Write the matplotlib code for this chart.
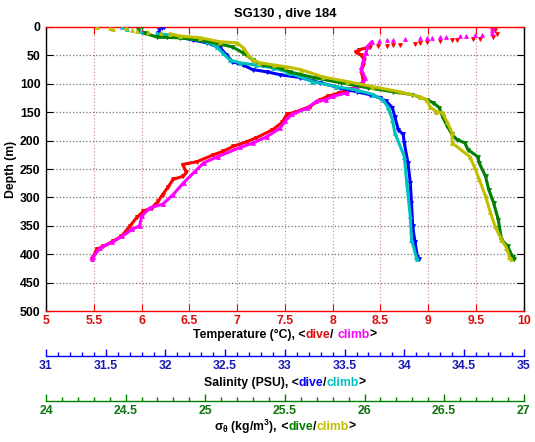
import matplotlib
matplotlib.use('Agg')
import matplotlib.pyplot as plt
import numpy as np

plt.rcParams['font.family'] = ['Liberation Sans', 'DejaVu Sans']
plt.rcParams['font.weight'] = 'bold'
plt.rcParams['mathtext.default'] = 'regular'

# temperature, dive (red) and climb (magenta)
temp_dive_depth = [0, 5, 12, 18, 21, 21, 23, 23, 25, 26, 28, 30, 31, 32, 33, 33, 35, 40, 44, 50, 58,
                   67, 75, 85, 96, 100, 105, 110, 116, 122, 128, 140, 149, 154, 168, 181, 195, 202,
                   210, 219, 225, 237, 242, 256, 263, 268, 281, 295, 307, 318, 324, 335, 350, 368,
                   377, 386, 391, 405, 408]
temp_dive = [9.67, 9.70, 9.72, 9.68, 9.54, 9.47, 9.30, 9.25, 9.12, 8.99, 8.91, 8.86, 8.70, 8.63,
             8.57, 8.47, 8.39, 8.28, 8.24, 8.30, 8.33, 8.32, 8.30, 8.31, 8.32, 8.30, 8.25, 8.18,
             8.07, 7.95, 7.87, 7.76, 7.62, 7.52, 7.47, 7.37, 7.20, 7.10, 6.96, 6.85, 6.75, 6.58,
             6.43, 6.47, 6.43, 6.33, 6.28, 6.22, 6.17, 6.11, 6.02, 5.95, 5.88, 5.79, 5.70, 5.60,
             5.53, 5.49, 5.48]
temp_climb_depth = [0, 5, 11, 14, 14, 16, 16, 18, 18, 19, 19, 19, 21, 23, 23, 25, 26, 35, 45, 60,
                    75, 90, 100, 105, 116, 122, 128, 131, 143, 154, 166, 178, 193, 204, 212, 228,
                    239, 254, 274, 295, 312, 318, 333, 350, 356, 368, 379, 388, 405, 408]
temp_climb = [9.67, 9.67, 9.67, 9.56, 9.49, 9.40, 9.33, 9.19, 9.12, 9.04, 8.99, 8.91, 8.76, 8.63,
              8.57, 8.49, 8.41, 8.36, 8.35, 8.32, 8.30, 8.34, 8.31, 8.25, 8.15, 8.00, 7.93, 7.83,
              7.73, 7.57, 7.50, 7.45, 7.31, 7.17, 7.03, 6.80, 6.65, 6.56, 6.44, 6.33, 6.22, 6.09,
              6.00, 5.98, 5.90, 5.80, 5.69, 5.57, 5.49, 5.48]

# salinity, dive (blue) and climb (cyan)
sal_dive_depth = [0, 2, 6, 11, 17, 18, 23, 28, 37, 49, 61, 67, 75, 79, 84, 89, 98, 107, 114, 119,
                  125, 131, 142, 158, 181, 189, 204, 239, 274, 309, 351, 379, 405, 408]
sal_dive = [31.99, 31.97, 31.95, 31.94, 32.01, 32.12, 32.23, 32.35, 32.46, 32.51, 32.56, 32.65,
            32.73, 32.85, 32.96, 33.13, 33.29, 33.46, 33.60, 33.71, 33.80, 33.85, 33.90, 33.92,
            33.95, 33.99, 34.00, 34.03, 34.05, 34.06, 34.07, 34.09, 34.11, 34.12]
sal_climb_depth = [0, 4, 7, 9, 12, 14, 18, 26, 35, 46, 58, 63, 67, 72, 79, 81, 96, 105, 111, 119,
                   128, 140, 163, 186, 228, 274, 333, 374, 405, 408]
sal_climb = [31.64, 31.68, 31.79, 31.81, 31.93, 32.04, 32.12, 32.35, 32.43, 32.48, 32.54, 32.62,
             32.76, 32.90, 33.02, 33.04, 33.23, 33.43, 33.60, 33.74, 33.82, 33.86, 33.90, 33.92,
             34.00, 34.02, 34.05, 34.06, 34.10, 34.11]

# sigma-theta, dive (green) and climb (yellow)
sig_dive_depth = [0, 5, 11, 18, 19, 23, 30, 35, 46, 58, 67, 72, 79, 89, 98, 107, 114, 119, 128, 133,
                  142, 158, 175, 189, 198, 204, 216, 228, 239, 263, 286, 309, 339, 374, 386, 405, 408]
sig_dive = [24.60, 24.58, 24.62, 24.70, 24.84, 24.97, 25.09, 25.17, 25.24, 25.30, 25.36, 25.47,
            25.53, 25.68, 25.85, 26.02, 26.18, 26.30, 26.39, 26.43, 26.47, 26.49, 26.52, 26.55,
            26.58, 26.63, 26.65, 26.71, 26.72, 26.76, 26.78, 26.81, 26.84, 26.86, 26.90, 26.93, 26.94]
sig_climb_depth = [0, 2, 4, 2, 5, 7, 9, 11, 12, 16, 19, 26, 28, 37, 49, 58, 63, 67, 70, 75, 88, 96,
                   105, 114, 123, 128, 140, 149, 151, 168, 186, 204, 228, 246, 268, 298, 326, 351,
                   374, 388, 405, 408]
sig_climb = [24.32, 24.40, 24.42, 24.50, 24.54, 24.57, 24.64, 24.72, 24.78, 24.84, 24.97, 25.09,
             25.20, 25.24, 25.27, 25.30, 25.34, 25.43, 25.51, 25.60, 25.74, 25.89, 26.05, 26.22,
             26.35, 26.39, 26.41, 26.45, 26.49, 26.52, 26.55, 26.55, 26.66, 26.69, 26.72, 26.76,
             26.79, 26.82, 26.86, 26.89, 26.91, 26.92]

RED = (1, 0, 0)
MAG = (1, 0, 1)
BLUE = (0, 0, 1)
CYAN = (0, 0.75, 0.75)
GREEN = (0, 0.5, 0)
YELLOW = (0.75, 0.75, 0)
LAB_RED = (0.85, 0.05, 0.05)
LAB_BLUE = (0.1, 0.1, 0.7)
LAB_GREEN = (0.05, 0.45, 0.05)

fs = 8.8

fig = plt.figure(figsize=(5.35, 4.42), dpi=100)
ax = fig.add_axes([0.086, 0.296, 0.893, 0.643])


def profile(a, x, depth, color, marker, cutoff):
    # near the surface the glider samples are sparse: markers only,
    # deeper down they merge into a thick line
    x = np.asarray(x)
    depth = np.asarray(depth)
    a.plot(x, depth, marker, color=color, ls='none', ms=2.8, mew=0.6)
    deep = depth >= cutoff
    a.plot(x[deep], depth[deep], '-', color=color, lw=2.2)


# temperature on the main axes
profile(ax, temp_dive, temp_dive_depth, RED, 'v', 35)
profile(ax, temp_climb, temp_climb_depth, MAG, '^', 26)
ax.set_xlim(5, 10)
ax.set_ylim(500, 0)
ax.set_xticks(np.arange(5, 10.01, 0.5))
ax.set_xticklabels(['5', '5.5', '6', '6.5', '7', '7.5', '8', '8.5', '9', '9.5', '10'])
ax.set_yticks(np.arange(0, 501, 50))
ax.grid(axis='x', color=(0.8, 0.6, 0.6), linestyle=':', lw=0.9)
ax.grid(axis='y', color=(0.45, 0.45, 0.45), linestyle=':', lw=0.9)
ax.set_ylabel('Depth (m)', fontsize=fs, fontweight='bold', labelpad=2)
ax.set_title('SG130 , dive 184', fontsize=9.4, fontweight='bold', pad=7)

# salinity and density get their own x axes below
ax_s = ax.twiny()
profile(ax_s, sal_dive, sal_dive_depth, BLUE, 'v', 11)
profile(ax_s, sal_climb, sal_climb_depth, CYAN, '^', 12)
ax_s.set_xlim(31, 35)

ax_d = ax.twiny()
profile(ax_d, sig_dive, sig_dive_depth, GREEN, 'v', 11)
profile(ax_d, sig_climb, sig_climb_depth, YELLOW, '^', 12)
ax_d.set_xlim(24, 27)

for a, off, col, lab, labels in [
        (ax_s, -0.158, BLUE, LAB_BLUE,
         ['31', '31.5', '32', '32.5', '33', '33.5', '34', '34.5', '35']),
        (ax_d, -0.317, GREEN, LAB_GREEN,
         ['24', '24.5', '25', '25.5', '26', '26.5', '27'])]:
    lo, hi = a.get_xlim()
    a.xaxis.set_ticks_position('bottom')
    a.xaxis.set_label_position('bottom')
    for s in ['top', 'left', 'right']:
        a.spines[s].set_visible(False)
    a.spines['bottom'].set_position(('axes', off))
    a.spines['bottom'].set_color(col)
    a.spines['bottom'].set_linewidth(1)
    a.set_xticks(np.arange(lo, hi + 0.01, 0.5))
    a.set_xticklabels(labels)
    a.set_xticks(np.arange(lo, hi + 0.01, 0.1), minor=True)
    a.tick_params(axis='x', which='major', direction='in', length=5, width=1, color=col,
                  labelcolor=lab, labelsize=fs, pad=2.5)
    a.tick_params(axis='x', which='minor', direction='in', length=3, width=1, color=col)

# main axes styling
ax.tick_params(axis='x', which='both', direction='in', top=True, bottom=True, length=5,
               color=RED, labelcolor=LAB_RED, labelsize=fs, pad=2.5)
ax.tick_params(axis='y', direction='in', left=True, right=True, length=5, labelsize=fs,
               pad=4)
ax.spines['bottom'].set_color(RED)
ax.spines['top'].set_color(RED)
for s in ax.spines.values():
    s.set_linewidth(1)
for t in ax.get_xticklabels() + ax.get_yticklabels():
    t.set_fontweight('bold')
for a in [ax_s, ax_d]:
    for t in a.get_xticklabels():
        t.set_fontweight('bold')


def colored_label(y, parts):
    # draw text pieces next to each other, centred on the axes
    renderer = fig.canvas.get_renderer()
    texts = []
    for s, c in parts:
        t = fig.text(0, y, s, color=c, fontsize=fs, fontweight='bold', va='center')
        texts.append(t)
    widths = [t.get_window_extent(renderer).width for t in texts]
    total = sum(widths)
    fw = fig.get_figwidth() * fig.dpi
    x = (0.086 + 0.893 / 2) * fw - total / 2
    for t, w in zip(texts, widths):
        t.set_x(x / fw)
        x += w


colored_label(0.242, [('Temperature (°C), <', 'black'), ('dive', LAB_RED), ('/ ', 'black'),
                      ('climb', MAG), ('>', 'black')])
colored_label(0.133, [('Salinity (PSU), <', 'black'), ('dive', BLUE), ('/', 'black'),
                      ('climb', CYAN), ('>', 'black')])
colored_label(0.034, [(r'$\sigma_\theta$ (kg/m$^3$),', 'black'), (' <', 'black'),
                      ('dive', GREEN), ('/', 'black'), ('climb', YELLOW), ('>', 'black')])

fig.savefig('out.png', dpi=100)
